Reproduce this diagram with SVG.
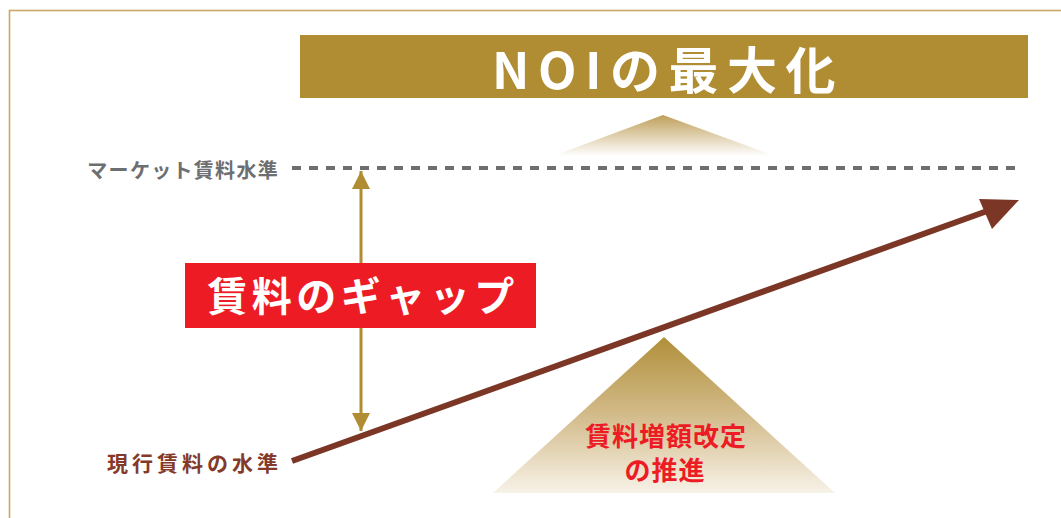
<svg xmlns="http://www.w3.org/2000/svg" width="1061" height="518" viewBox="0 0 1061 518">
<style>
.jp{font-family:"Noto Sans CJK JP","Noto Sans",sans-serif;font-weight:bold;}
.lbl{font-size:20px;}
</style>
<defs>
<linearGradient id="gSmall" x1="0" y1="0" x2="0" y2="1">
<stop offset="0" stop-color="#bf9f5a"/>
<stop offset="1" stop-color="#ffffff"/>
</linearGradient>
<linearGradient id="gBig" x1="0" y1="0" x2="0" y2="1">
<stop offset="0" stop-color="#b08f3a"/>
<stop offset="0.5" stop-color="#d3bb8a"/>
<stop offset="1" stop-color="#f7f2e8"/>
</linearGradient>
<marker id="goldHead" viewBox="0 0 18 22" refX="18" refY="11" markerWidth="18" markerHeight="22" markerUnits="userSpaceOnUse" orient="auto-start-reverse">
<path d="M0,2 L18,11 L0,20 Z" fill="#b08c33"/>
</marker>
</defs>
<rect width="1061" height="518" fill="#ffffff"/>
<rect x="9.5" y="10.5" width="1070" height="520" fill="none" stroke="#c9a862" stroke-width="1.6"/>

<g id="noi">
<rect x="300" y="35" width="728" height="63" fill="#b08c33"/>
<text class="jp" x="668" y="89" font-size="50" letter-spacing="8.5" text-anchor="middle" fill="#ffffff">NOIの最大化</text>
</g>

<g id="small-triangle">
<polygon points="663,115 553,156 775,156" fill="url(#gSmall)"/>
</g>

<g id="market-level">
<text class="jp lbl" x="279" y="178" letter-spacing="1.3" text-anchor="end" fill="#6d6e71">マーケット賃料水準</text>
</g>

<g id="current-level">
<text class="jp" x="282" y="471" font-size="21" letter-spacing="4" text-anchor="end" fill="#843a2a">現行賃料の水準</text>
</g>

<g id="big-triangle">
<polygon points="664,337 493,493 835,493" fill="url(#gBig)"/>
<text class="jp" x="666" y="446" font-size="26" letter-spacing="1" text-anchor="middle" fill="#ed1c24">賃料増額改定</text>
<text class="jp" x="665" y="480" font-size="26" letter-spacing="1" text-anchor="middle" fill="#ed1c24">の推進</text>
</g>

<g id="connectors">
<line x1="292" y1="168" x2="1016" y2="168" stroke="#6d6e71" stroke-width="4" stroke-dasharray="9 8"/>
<line x1="361" y1="171" x2="361" y2="431" stroke="#b08c33" stroke-width="3" marker-start="url(#goldHead)" marker-end="url(#goldHead)"/>
<line x1="292" y1="461" x2="990" y2="210" stroke="#7b3626" stroke-width="6"/>
<polygon points="1019,200 979,199 992,229" fill="#7b3626"/>
</g>

<g id="gap">
<rect x="185" y="263" width="351" height="65" fill="#ed1c24"/>
<text class="jp" x="363" y="311" font-size="40" letter-spacing="4.5" text-anchor="middle" fill="#ffffff">賃料のギャップ</text>
</g>
</svg>
